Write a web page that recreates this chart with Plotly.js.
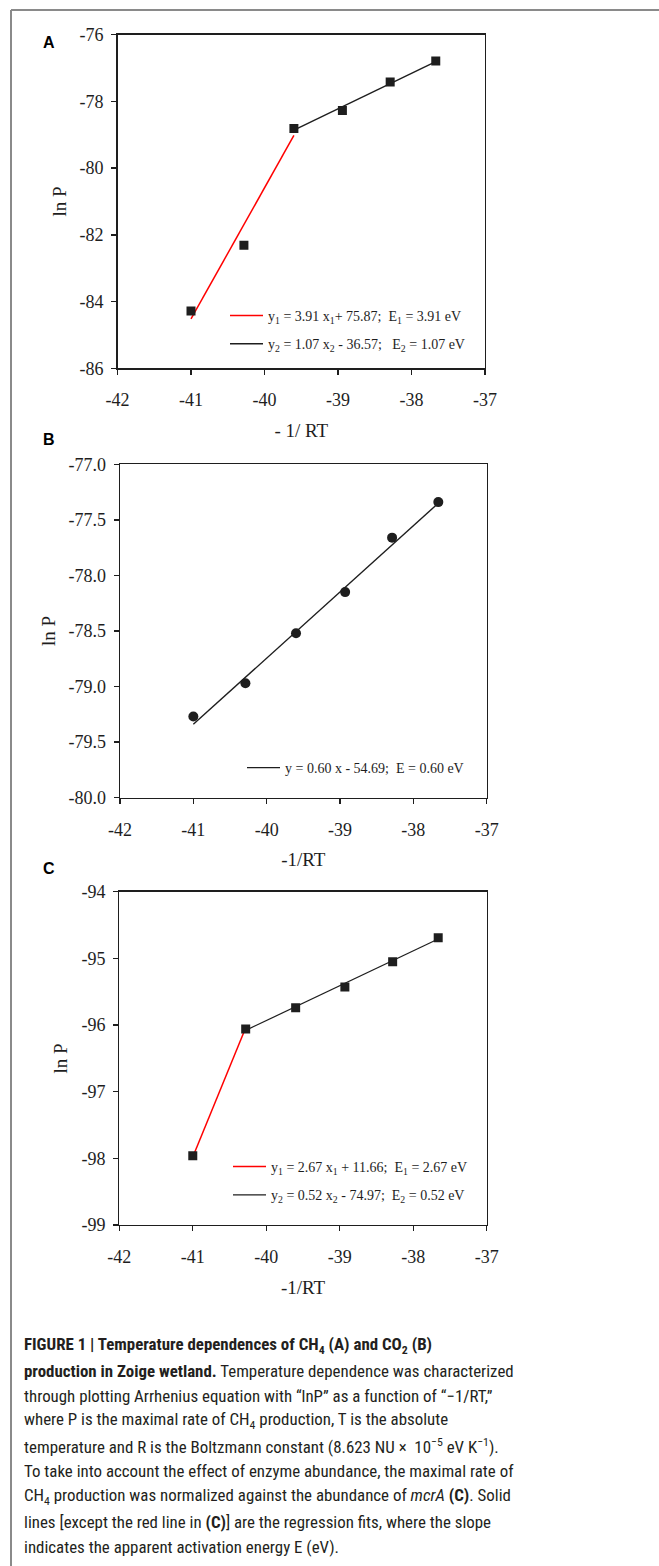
<!DOCTYPE html>
<html>
<head>
<meta charset="utf-8">
<script src="https://cdn.plot.ly/plotly-3.0.1.min.js"></script>
<style>
html,body{margin:0;padding:0;background:#fff;}
#chart{width:659px;height:1566px;}
</style>
</head>
<body>
<div id="chart"></div>
<script>
// ---------- DATA ----------
// Panel A: CH4 production
const xA = [-41.00, -40.28, -39.60, -38.94, -38.29, -37.67];
const yA = [-84.28, -82.31, -78.81, -78.27, -77.42, -76.79];
const fitA1X = [-41.00, -39.60];          // red fit
const fitA1Y = [-84.52, -79.02];
const fitA2X = [-39.60, -37.67];          // black fit
const fitA2Y = [-78.86, -76.81];
const legA1 = 'y<sub>1</sub> = 3.91 x<sub>1</sub>+ 75.87;\u00A0\u00A0E<sub>1</sub> = 3.91 eV';
const legA2 = 'y<sub>2</sub> = 1.07 x<sub>2</sub> - 36.57;\u00A0\u00A0 E<sub>2</sub> = 1.07 eV';

// Panel B: CO2 production
const xB = [-41.00, -40.29, -39.60, -38.93, -38.29, -37.66];
const yB = [-79.27, -78.97, -78.52, -78.15, -77.66, -77.34];
const fitBX = [-41.00, -37.66];
const fitBY = [-79.34, -77.35];
const legB = 'y = 0.60 x - 54.69;\u00A0\u00A0E = 0.60 eV';

// Panel C: CH4 production normalized by mcrA
const xC = [-41.00, -40.28, -39.60, -38.93, -38.28, -37.66];
const yC = [-97.96, -96.06, -95.74, -95.43, -95.05, -94.69];
const fitC1X = [-41.00, -40.28];
const fitC1Y = [-97.98, -96.04];
const fitC2X = [-40.28, -37.66];
const fitC2Y = [-96.08, -94.71];
const legC1 = 'y<sub>1</sub> = 2.67 x<sub>1</sub> + 11.66;\u00A0\u00A0E<sub>1</sub> = 2.67 eV';
const legC2 = 'y<sub>2</sub> = 0.52 x<sub>2</sub> - 74.97;\u00A0\u00A0E<sub>2</sub> = 0.52 eV';

// Ticks
const xTickVals = [-42, -41, -40, -39, -38, -37];
const xTickText = ['-42', '-41', '-40', '-39', '-38', '-37'];
const yTickValsA = [-86, -84, -82, -80, -78, -76];
const yTickTextA = ['-86', '-84', '-82', '-80', '-78', '-76'];
const yTickValsB = [-80.0, -79.5, -79.0, -78.5, -78.0, -77.5, -77.0];
const yTickTextB = ['-80.0', '-79.5', '-79.0', '-78.5', '-78.0', '-77.5', '-77.0'];
const yTickValsC = [-99, -98, -97, -96, -95, -94];
const yTickTextC = ['-99', '-98', '-97', '-96', '-95', '-94'];

const panelLabels = ['A', 'B', 'C'];
const xTitles = ['- 1/ RT', '-1/RT', '-1/RT'];
const yTitle = 'ln P';

const captionLines = [
  '<b>FIGURE 1 | Temperature dependences of CH<sub>4</sub> (A) and CO<sub>2</sub> (B)</b>',
  '<b>production in Zoige wetland.</b> Temperature dependence was characterized',
  'through plotting Arrhenius equation with \u201ClnP\u201D as a function of \u201C\u22121/RT,\u201D',
  'where P is the maximal rate of CH<sub>4</sub> production, T is the absolute',
  'temperature and R is the Boltzmann constant (8.623 NU \u00D7\u00A0 10<sup>\u22125</sup> eV K<sup>\u22121</sup>).',
  'To take into account the effect of enzyme abundance, the maximal rate of',
  'CH<sub>4</sub> production was normalized against the abundance of <i>mcrA</i> <b>(C)</b>. Solid',
  'lines [except the red line in <b>(C)</b>] are the regression fits, where the slope',
  'indicates the apparent activation energy E (eV).'
];

// ---------- LAYOUT HELPERS ----------
const W = 659, H = 1566;
const fx = p => p / W;
const fy = p => 1 - p / H;

const SERIF = 'Liberation Serif, Times New Roman, serif';
const INK = '#1e1e1e';

function xAxis(domainPx, anchor, title) {
  return {
    domain: [fx(domainPx[0]), fx(domainPx[1])],
    anchor: anchor,
    range: [-42, -37],
    tickmode: 'array', tickvals: xTickVals, ticktext: xTickText,
    showline: true, linecolor: INK, linewidth: 1.3, mirror: true,
    ticks: 'outside', ticklen: 5, tickwidth: 1.3, tickcolor: INK,
    ticklabelstandoff: 10,
    showgrid: false, zeroline: false,
    tickfont: {family: SERIF, size: 18, color: INK},
    title: {text: title, font: {family: SERIF, size: 19, color: INK}, standoff: 14}
  };
}
function yAxis(domainPx, anchor, range, vals, text) {
  return {
    domain: [fy(domainPx[1]), fy(domainPx[0])],
    anchor: anchor,
    range: range,
    tickmode: 'array', tickvals: vals, ticktext: text,
    showline: true, linecolor: INK, linewidth: 1.3, mirror: true,
    ticks: 'outside', ticklen: 5, tickwidth: 1.3, tickcolor: INK,
    ticklabelstandoff: 4,
    showgrid: false, zeroline: false,
    tickfont: {family: SERIF, size: 18, color: INK},
    title: {text: yTitle, font: {family: SERIF, size: 19, color: INK}, standoff: 8}
  };
}

const sq = {symbol: 'square', size: 9, color: INK};
const circ = {symbol: 'circle', size: 10, color: INK};

const traces = [
  // Panel A
  {x: fitA1X, y: fitA1Y, xaxis: 'x', yaxis: 'y', mode: 'lines', line: {color: '#ff0000', width: 1.5},
   name: legA1, legend: 'legend', legendgroup: 'a1'},
  {x: fitA2X, y: fitA2Y, xaxis: 'x', yaxis: 'y', mode: 'lines', line: {color: INK, width: 1.4},
   name: legA2, legend: 'legend', legendgroup: 'a2'},
  {x: xA, y: yA, xaxis: 'x', yaxis: 'y', mode: 'markers', marker: sq, showlegend: false},
  // Panel B
  {x: fitBX, y: fitBY, xaxis: 'x2', yaxis: 'y2', mode: 'lines', line: {color: INK, width: 1.4},
   name: legB, legend: 'legend2', legendgroup: 'b1'},
  {x: xB, y: yB, xaxis: 'x2', yaxis: 'y2', mode: 'markers', marker: circ, showlegend: false},
  // Panel C
  {x: fitC1X, y: fitC1Y, xaxis: 'x3', yaxis: 'y3', mode: 'lines', line: {color: '#ff0000', width: 1.5},
   name: legC1, legend: 'legend3', legendgroup: 'c1'},
  {x: fitC2X, y: fitC2Y, xaxis: 'x3', yaxis: 'y3', mode: 'lines', line: {color: INK, width: 1.2},
   name: legC2, legend: 'legend3', legendgroup: 'c2'},
  {x: xC, y: yC, xaxis: 'x3', yaxis: 'y3', mode: 'markers', marker: sq, showlegend: false}
];

function legendAt(leftPx, topPx) {
  return {
    x: fx(leftPx), y: fy(topPx), xanchor: 'left', yanchor: 'top',
    xref: 'paper', yref: 'paper',
    bgcolor: 'rgba(0,0,0,0)', borderwidth: 0,
    font: {family: SERIF, size: 14, color: INK},
    itemwidth: 33, tracegroupgap: 7, traceorder: 'grouped'
  };
}

const annotations = [];
const labelPos = [[49, 42], [49, 439], [49, 869]];
panelLabels.forEach((t, i) => {
  annotations.push({
    text: '<b>' + t + '</b>', xref: 'paper', yref: 'paper',
    x: fx(labelPos[i][0]), y: fy(labelPos[i][1]), xanchor: 'center', yanchor: 'middle',
    showarrow: false, font: {family: 'Liberation Sans, Arial, sans-serif', size: 16, color: '#000'}
  });
});
const capY = [1345, 1370.7, 1395.7, 1420.9, 1446.1, 1471.3, 1496.6, 1521.9, 1547.3];
captionLines.forEach((t, i) => {
  annotations.push({
    text: t, xref: 'paper', yref: 'paper',
    x: fx(22), y: fy(capY[i]), xanchor: 'left', yanchor: 'middle',
    showarrow: false, align: 'left',
    font: {family: 'Roboto Condensed, Liberation Sans Narrow, DejaVu Sans Condensed, Roboto, sans-serif', size: 16.9, color: '#231f20'}
  });
});

const layout = {
  width: W, height: H,
  margin: {l: 0, r: 0, t: 0, b: 0},
  paper_bgcolor: '#fff', plot_bgcolor: '#fff',
  showlegend: true,
  xaxis: xAxis([117.5, 485], 'y', xTitles[0]),
  yaxis: yAxis([34.7, 368.3], 'x', [-86, -76], yTickValsA, yTickTextA),
  xaxis2: xAxis([120, 486.7], 'y2', xTitles[1]),
  yaxis2: yAxis([464.3, 797.7], 'x2', [-80, -77], yTickValsB, yTickTextB),
  xaxis3: xAxis([119.3, 486.7], 'y3', xTitles[2]),
  yaxis3: yAxis([891.7, 1225], 'x3', [-99, -94], yTickValsC, yTickTextC),
  legend: legendAt(225, 300),
  legend2: legendAt(242, 752),
  legend3: legendAt(228, 1151),
  annotations: annotations,
  shapes: [
    {type: 'line', xref: 'paper', yref: 'paper', x0: fx(11), x1: 1, y0: fy(10), y1: fy(10), line: {color: '#8a8a8a', width: 2}},
    {type: 'line', xref: 'paper', yref: 'paper', x0: fx(11), x1: fx(11), y0: fy(10), y1: 0, line: {color: '#8a8a8a', width: 2}}
  ]
};

Plotly.newPlot('chart', traces, layout, {displayModeBar: false, staticPlot: true});
</script>
</body>
</html>
